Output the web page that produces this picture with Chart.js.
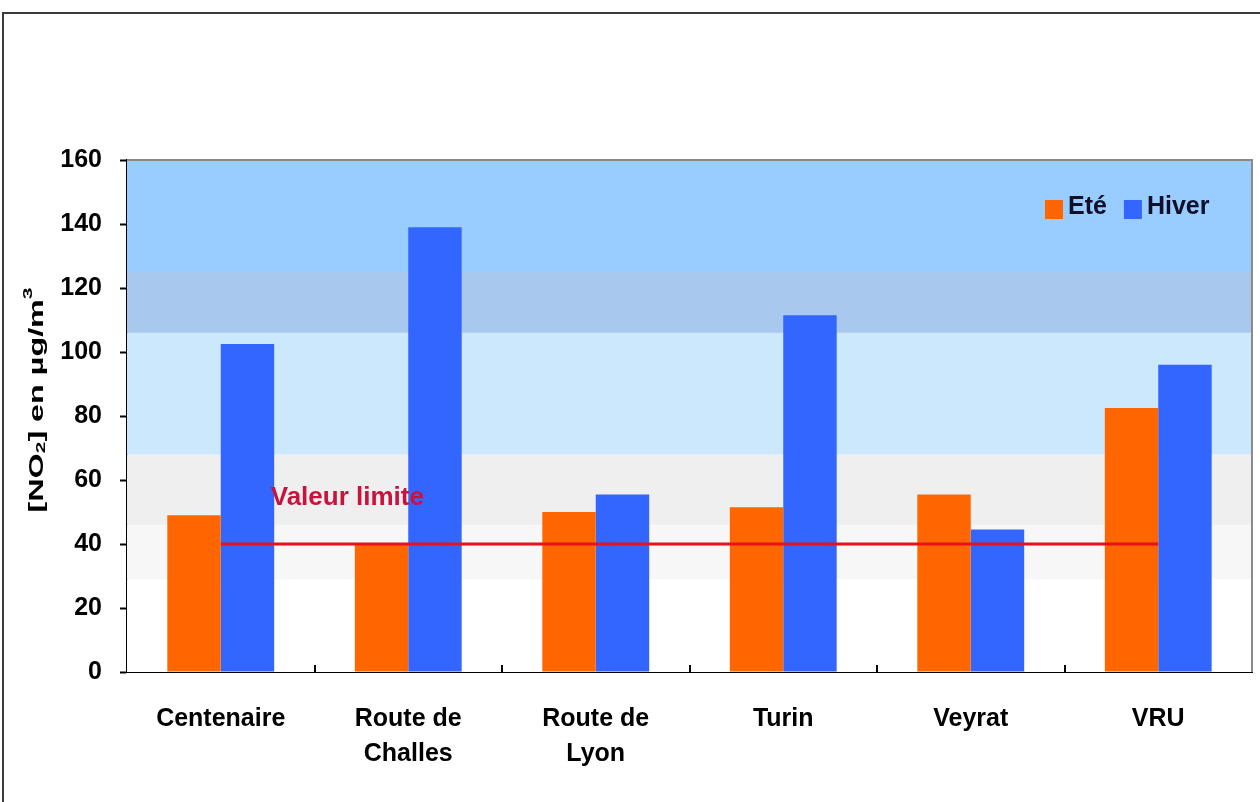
<!DOCTYPE html>
<html>
<head>
<meta charset="utf-8">
<script src="https://cdn.jsdelivr.net/npm/chart.js@4/dist/chart.umd.min.js"></script>
<style>
  html, body { margin: 0; padding: 0; background: #ffffff; }
  #cadre { position: absolute; left: 0; top: 0; width: 1260px; height: 802px; }
  #bordure { position: absolute; left: 2px; top: 12px; width: 1300px; height: 900px;
             border-top: 2px solid #3c3c3c; border-left: 2px solid #3c3c3c; pointer-events: none; }
</style>
</head>
<body>
<div id="cadre"><canvas id="graphique-no2" width="1260" height="802"></canvas></div>
<div id="bordure"></div>
<script>
// Données du graphique
const sites = ["Centenaire", ["Route de", "Challes"], ["Route de", "Lyon"], "Turin", "Veyrat", "VRU"];
const valeursEte = [49, 40, 50, 51.5, 55.5, 82.5];
const valeursHiver = [102.5, 139, 55.5, 111.5, 44.5, 96];
const valeurLimite = [40, 40, 40, 40, 40, 40];
const yMin = 0, yMax = 160, yPas = 20;

// Bandes de fond (limites en µg/m3)
const limitesBandes = [0, 29, 46, 68, 106, 125, 160];
const couleursBandes = ["#ffffff", "#f7f7f7", "#efefef", "#cbe8fc", "#a8c8ee", "#99ccff"];

const police = "'Liberation Sans', Arial, sans-serif";
Chart.defaults.font.family = police;

//Dessin des bandes de couleur derrière les barres
const pluginBandes = {
    id: "bandes",
    beforeDatasetsDraw: function(chart){
        const ctx = chart.ctx;
        const zone = chart.chartArea;
        const x = chart.scales.x;
        const y = chart.scales.y;
        ctx.save();
        for(let i = 0; i < couleursBandes.length; i++){
            const yHaut = y.getPixelForValue(limitesBandes[i + 1]);
            const yBas = y.getPixelForValue(limitesBandes[i]);
            ctx.fillStyle = couleursBandes[i];
            ctx.fillRect(zone.left, yHaut, zone.right - zone.left, yBas - yHaut);
        }
        // bord haut et droit de la zone de tracé
        ctx.strokeStyle = "#8a8a8a";
        ctx.lineWidth = 2;
        ctx.beginPath();
        ctx.moveTo(zone.left, zone.top);
        ctx.lineTo(zone.right, zone.top);
        ctx.lineTo(zone.right, zone.bottom);
        ctx.stroke();

        // petites graduations entre les catégories (vers l'intérieur)
        const pas = x.getPixelForValue(1) - x.getPixelForValue(0);
        ctx.strokeStyle = "#000000";
        ctx.beginPath();
        for(let i = 0; i < sites.length - 1; i++){
            const xt = Math.round(x.getPixelForValue(i) + pas / 2);
            ctx.moveTo(xt, zone.bottom);
            ctx.lineTo(xt, zone.bottom - 7);
        }
        ctx.stroke();
        ctx.restore();
    }
};

//Texte "Valeur limite", légende et titre de l'axe Y (avec indice et exposant)
const pluginTextes = {
    id: "textes",
    afterDatasetsDraw: function(chart){
        const ctx = chart.ctx;
        const zone = chart.chartArea;
        const x = chart.scales.x;
        const y = chart.scales.y;
        ctx.save();
        ctx.font = "bold 26px " + police;
        ctx.fillStyle = "#c8143c";
        ctx.textBaseline = "middle";
        ctx.textAlign = "left";
        ctx.fillText("Valeur limite", x.getPixelForValue(0) + 50, y.getPixelForValue(54.5));

        // légende
        const jeux = chart.data.datasets.filter(d => d.type !== "line");
        let xl = zone.right - 207;
        const yl = zone.top + 49;
        ctx.font = "bold 25px " + police;
        jeux.forEach(function(jeu){
            ctx.fillStyle = jeu.backgroundColor;
            ctx.fillRect(xl, yl - 9, 18, 19);
            ctx.fillStyle = "#10102a";
            ctx.fillText(jeu.label, xl + 23, yl - 2);
            xl += 23 + ctx.measureText(jeu.label).width + 17;
        });
        ctx.restore();

        // titre de l'axe Y
        const morceaux = [
            { t: "[NO", taille: 20, dy: 0 },
            { t: "2", taille: 13, dy: 4 },
            { t: "] en µg/m", taille: 20, dy: 0 },
            { t: "3", taille: 13, dy: -9 }
        ];
        ctx.save();
        let largeur = 0;
        morceaux.forEach(function(m){
            ctx.font = "bold " + m.taille + "px " + police;
            m.w = ctx.measureText(m.t).width;
            largeur += m.w;
        });
        const longueurCible = 225;
        ctx.translate(37, y.getPixelForValue(85));
        ctx.rotate(-Math.PI / 2);
        ctx.scale(longueurCible / largeur, 1);
        ctx.fillStyle = "#000000";
        ctx.textBaseline = "middle";
        ctx.textAlign = "left";
        let px = -largeur / 2;
        morceaux.forEach(function(m){
            ctx.font = "bold " + m.taille + "px " + police;
            ctx.fillText(m.t, px, m.dy);
            px += m.w;
        });
        ctx.restore();
    }
};

const canvas = document.getElementById("graphique-no2").getContext("2d");
const graphique = new Chart(canvas, {
    type: "bar",
    data: {
        labels: sites,
        datasets: [
            {
                type: "line",
                label: "Valeur limite",
                data: valeurLimite,
                borderColor: "#e8101a",
                borderWidth: 3,
                pointRadius: 0,
                order: 0
            },
            {
                label: "Eté",
                data: valeursEte,
                backgroundColor: "#ff6600",
                categoryPercentage: 0.57,
                barPercentage: 1.0,
                order: 1
            },
            {
                label: "Hiver",
                data: valeursHiver,
                backgroundColor: "#3366ff",
                categoryPercentage: 0.57,
                barPercentage: 1.0,
                order: 1
            }
        ]
    },
    options: {
        responsive: false,
        animation: false,
        layout: { padding: { top: 160, left: 10, right: 8, bottom: 0 } },
        plugins: {
            legend: { display: false },
            tooltip: { enabled: false }
        },
        scales: {
            x: {
                grid: { display: false, drawTicks: false },
                border: { color: "#000000", width: 2 },
                ticks: {
                    color: "#000000",
                    font: { size: 25, weight: "bold", lineHeight: 1.4 },
                    padding: 30,
                    maxRotation: 0,
                    autoSkip: false
                },
                afterFit: function(scale){ scale.height = 130; }
            },
            y: {
                min: yMin,
                max: yMax,
                grid: { drawOnChartArea: false, tickLength: 7, tickColor: "#000000", tickWidth: 2 },
                border: { color: "#000000", width: 2 },
                ticks: {
                    stepSize: yPas,
                    color: "#000000",
                    font: { size: 25, weight: "bold" },
                    padding: 18
                },
                afterFit: function(scale){ scale.width = 117; }
            }
        }
    },
    plugins: [pluginBandes, pluginTextes]
});
</script>
</body>
</html>
